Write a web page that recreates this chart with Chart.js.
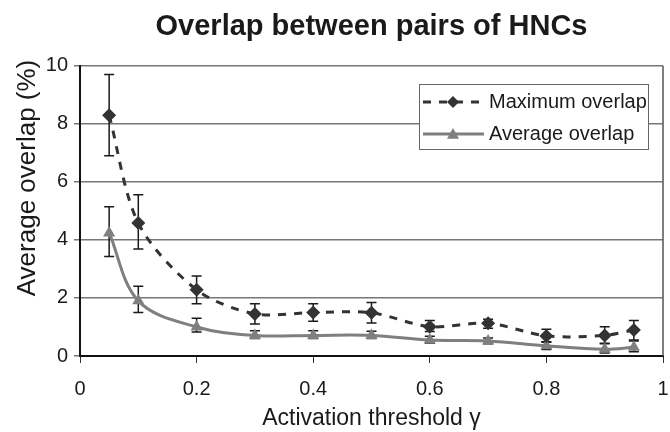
<!DOCTYPE html>
<html>
<head>
<meta charset="utf-8">
<script src="https://cdn.jsdelivr.net/npm/chart.js@4/dist/chart.umd.min.js"></script>
<style>
  html, body { margin: 0; padding: 0; background: #fff; }
  #wrap { width: 670px; height: 432px; }
</style>
</head>
<body>
<div id="wrap"><canvas id="chart"></canvas></div>
<script>
// activation thresholds (x)
const thresholds = [0.05, 0.1, 0.2, 0.3, 0.4, 0.5, 0.6, 0.7, 0.8, 0.9, 0.95];

// maximum overlap (%) with error bar ends
const maxOverlap = [8.3, 4.58, 2.28, 1.45, 1.5, 1.49, 1.01, 1.13, 0.69, 0.71, 0.9];
const maxHigh    = [9.7, 5.56, 2.76, 1.8, 1.8, 1.84, 1.22, 1.27, 0.92, 1.01, 1.22];
const maxLow     = [6.9, 3.69, 1.8, 1.1, 1.2, 1.14, 0.84, 0.96, 0.49, 0.44, 0.55];

// average overlap (%) with error bar ends
const avgOverlap = [4.24, 1.9, 1.0, 0.71, 0.71, 0.71, 0.55, 0.52, 0.35, 0.23, 0.3];
const avgHigh    = [5.14, 2.4, 1.3, 0.87, 0.87, 0.85, 0.68, 0.62, 0.47, 0.42, 0.52];
const avgLow     = [3.43, 1.5, 0.83, 0.6, 0.6, 0.6, 0.45, 0.42, 0.22, 0.1, 0.15];

const seriesNames = ['Maximum overlap', 'Average overlap'];
const yTitle = 'Average overlap (%)';
const FONT = "'Liberation Sans', Arial, Helvetica, sans-serif";

function pts(ys) {
  return thresholds.map((x, i) => ({ x: x, y: ys[i] }));
}

// error bars, drawn under the lines and markers
const errorBars = {
  id: 'errorBars',
  beforeDatasetsDraw(chart) {
    const ctx = chart.ctx;
    const xs = chart.scales.x, ys = chart.scales.y;
    const sets = [[maxHigh, maxLow], [avgHigh, avgLow]];
    ctx.save();
    ctx.strokeStyle = '#1a1a1a';
    ctx.lineWidth = 1.5;
    sets.forEach(([hi, lo]) => {
      thresholds.forEach((t, i) => {
        const px = xs.getPixelForValue(t);
        const top = ys.getPixelForValue(hi[i]);
        const bot = ys.getPixelForValue(lo[i]);
        ctx.beginPath();
        ctx.moveTo(px, top); ctx.lineTo(px, bot);
        ctx.moveTo(px - 5, top); ctx.lineTo(px + 5, top);
        ctx.moveTo(px - 5, bot); ctx.lineTo(px + 5, bot);
        ctx.stroke();
      });
    });
    ctx.restore();
  }
};

// right frame line, y title and boxed legend inside the plot
const frameAndLegend = {
  id: 'frameAndLegend',
  afterDraw(chart) {
    const ctx = chart.ctx;
    const a = chart.chartArea;
    ctx.save();
    ctx.strokeStyle = '#555';
    ctx.lineWidth = 1.5;
    ctx.beginPath();
    ctx.moveTo(a.right, a.top);
    ctx.lineTo(a.right, a.bottom);
    ctx.stroke();

    // y axis title
    ctx.save();
    ctx.translate(28, 178);
    ctx.rotate(-Math.PI / 2);
    ctx.fillStyle = '#1a1a1a';
    ctx.font = '26px ' + FONT;
    ctx.textAlign = 'center';
    ctx.textBaseline = 'middle';
    ctx.fillText(yTitle, 0, 0);
    ctx.restore();

    // legend box
    const bx = 419, by = 84, bw = 229, bh = 65;
    ctx.fillStyle = '#fff';
    ctx.fillRect(bx, by, bw, bh);
    ctx.strokeStyle = '#666';
    ctx.lineWidth = 1;
    ctx.strokeRect(bx + 0.5, by + 0.5, bw, bh);

    const ds = chart.data.datasets;
    const rows = [102, 134];
    ds.forEach((d, i) => {
      const y = rows[i];
      ctx.strokeStyle = d.borderColor;
      ctx.lineWidth = d.borderWidth;
      ctx.setLineDash(d.borderDash || []);
      ctx.beginPath();
      ctx.moveTo(423, y); ctx.lineTo(484, y);
      ctx.stroke();
      ctx.setLineDash([]);
      ctx.fillStyle = d.pointBackgroundColor;
      ctx.beginPath();
      const r = 6;
      if (d.pointStyle === 'rectRot') {
        ctx.moveTo(453, y - r); ctx.lineTo(453 + r, y);
        ctx.lineTo(453, y + r); ctx.lineTo(453 - r, y);
      } else {
        ctx.moveTo(453, y - r); ctx.lineTo(453 + r, y + r * 0.8);
        ctx.lineTo(453 - r, y + r * 0.8);
      }
      ctx.closePath();
      ctx.fill();
      ctx.fillStyle = '#1a1a1a';
      ctx.font = '20px ' + FONT;
      ctx.textBaseline = 'middle';
      ctx.textAlign = 'left';
      ctx.fillText(d.label, 489, y);
    });
    ctx.restore();
  }
};

new Chart(document.getElementById('chart'), {
  type: 'line',
  data: {
    datasets: [
      {
        label: seriesNames[0],
        data: pts(maxOverlap),
        borderColor: '#333',
        borderWidth: 3,
        borderDash: [8, 8],
        tension: 0.3,
        pointStyle: 'rectRot',
        pointRadius: 7,
        pointBackgroundColor: '#333',
        pointBorderColor: '#333',
        pointBorderWidth: 0
      },
      {
        label: seriesNames[1],
        data: pts(avgOverlap),
        borderColor: '#7f7f7f',
        borderWidth: 3,
        tension: 0.35,
        pointStyle: 'triangle',
        pointRadius: 7,
        pointBackgroundColor: '#7f7f7f',
        pointBorderColor: '#7f7f7f',
        pointBorderWidth: 0
      }
    ]
  },
  options: {
    responsive: true,
    maintainAspectRatio: false,
    animation: false,
    layout: { padding: { left: 0, right: 4, top: 0, bottom: 0 } },
    plugins: {
      legend: { display: false },
      tooltip: { enabled: false },
      title: {
        display: true,
        fullSize: false,
        text: 'Overlap between pairs of HNCs',
        color: '#1a1a1a',
        font: { family: FONT, size: 29, weight: 'bold', lineHeight: 1.2 },
        padding: { top: 10, bottom: 21 }
      }
    },
    scales: {
      x: {
        type: 'linear',
        min: 0,
        max: 1,
        afterFit(s) { s.height = 76; s.paddingLeft = 0; s.paddingRight = 0; },
        border: { display: true, color: '#111', width: 2 },
        grid: { drawOnChartArea: false, drawTicks: true, tickLength: 7, color: '#333', lineWidth: 1 },
        ticks: {
          stepSize: 0.2,
          padding: 14,
          color: '#1a1a1a',
          font: { family: FONT, size: 20 },
          callback: v => String(Math.round(v * 10) / 10)
        },
        title: {
          display: true,
          text: 'Activation threshold γ',
          color: '#1a1a1a',
          font: { family: FONT, size: 23 },
          padding: { top: 0, bottom: 0 }
        }
      },
      y: {
        min: 0,
        max: 10,
        afterFit(s) { s.width = 80; },
        border: { display: true, color: '#111', width: 2 },
        grid: { color: '#777', lineWidth: 1.5, drawTicks: true, tickLength: 6 },
        ticks: {
          stepSize: 2,
          padding: 6,
          color: '#1a1a1a',
          font: { family: FONT, size: 20 }
        },
        title: { display: false }
      }
    }
  },
  plugins: [errorBars, frameAndLegend]
});
</script>
</body>
</html>
